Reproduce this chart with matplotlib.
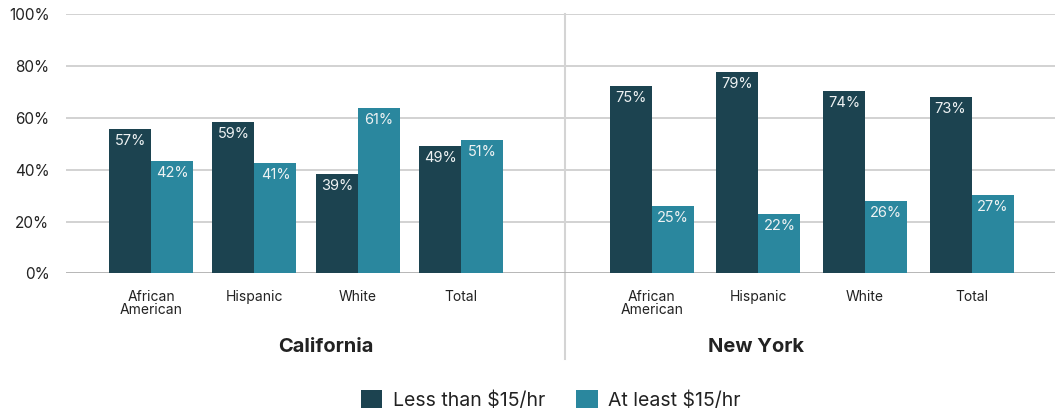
import matplotlib
matplotlib.use('Agg')
import matplotlib.pyplot as plt
from matplotlib.patches import Patch
import numpy as np

plt.rcParams['font.family'] = ['Inter', 'DejaVu Sans']

categories = ['African\nAmerican', 'Hispanic', 'White', 'Total']
states = ['California', 'New York']
series = ['Less than $15/hr', 'At least $15/hr']

# bar heights as drawn in the source chart (%)
ca_less = [55.7, 58.4, 38.3, 49.1]
ca_more = [43.4, 42.6, 63.8, 51.5]
ny_less = [72.3, 77.7, 70.4, 68.1]
ny_more = [26.0, 22.9, 27.9, 30.2]

# printed labels
ca_less_lbl = [57, 59, 39, 49]
ca_more_lbl = [42, 41, 61, 51]
ny_less_lbl = [75, 79, 74, 73]
ny_more_lbl = [25, 22, 26, 27]

DARK = '#1c4350'
LIGHT = '#2a879e'
GRID = '#cbcbcb'

fig = plt.figure(figsize=(10.55, 4.12), dpi=100)
ax = fig.add_axes([0.0626, 0.3366, 0.9374, 0.6287])

x_ca = np.arange(4) * 0.985
x_ny = np.arange(4) * 1.015 + 4.77
w = 0.4

for xs, less, more, less_lbl, more_lbl in [
    (x_ca, ca_less, ca_more, ca_less_lbl, ca_more_lbl),
    (x_ny, ny_less, ny_more, ny_less_lbl, ny_more_lbl),
]:
    ax.bar(xs - w / 2, less, width=w, color=DARK, zorder=3)
    ax.bar(xs + w / 2, more, width=w, color=LIGHT, zorder=3)
    for xi, h, lab in zip(xs - w / 2, less, less_lbl):
        ax.text(xi, h - 4.6, f'{lab}%', ha='center', va='center',
                color='#eef2f3', fontsize=10.5, zorder=4)
    for xi, h, lab in zip(xs + w / 2, more, more_lbl):
        ax.text(xi, h - 4.6, f'{lab}%', ha='center', va='center',
                color='#eef2f3', fontsize=10.5, zorder=4)

ax.set_xlim(-0.81, 8.61)
ax.set_ylim(0, 100)
ax.set_yticks(range(0, 101, 20))
ax.set_yticklabels([f'{v}%' for v in range(0, 101, 20)], fontsize=11, color='#222222')
ax.tick_params(axis='y', length=0, pad=12)

ax.set_xticks(np.concatenate([x_ca, x_ny]))
ax.set_xticklabels(categories * 2, fontsize=10, color='#222222', linespacing=0.95)
ax.tick_params(axis='x', length=0, pad=12)

for v in range(20, 101, 20):
    ax.axhline(v, color=GRID, lw=1.2, zorder=1)
ax.axhline(0, color='#aaaaaa', lw=1.2, zorder=2)

for s in ax.spines.values():
    s.set_visible(False)

# divider between states
ax.axvline(3.94, ymin=-0.33, ymax=1, color='#d4d4d4', lw=1.5, clip_on=False, zorder=1)

ax.text(1.66, -28.5, states[0], ha='center', va='center', fontsize=14.5,
        fontweight='bold', color='#222222')
ax.text(5.76, -28.5, states[1], ha='center', va='center', fontsize=14.5,
        fontweight='bold', color='#222222')

handles = [Patch(facecolor=DARK, label=series[0]), Patch(facecolor=LIGHT, label=series[1])]
fig.legend(handles=handles, loc='center', bbox_to_anchor=(0.522, 0.03), ncol=2,
           frameon=False, fontsize=14, handlelength=1.1, handleheight=1.1,
           handletextpad=0.55, columnspacing=1.6, labelcolor='#222222')

fig.savefig('out.png', dpi=100)
